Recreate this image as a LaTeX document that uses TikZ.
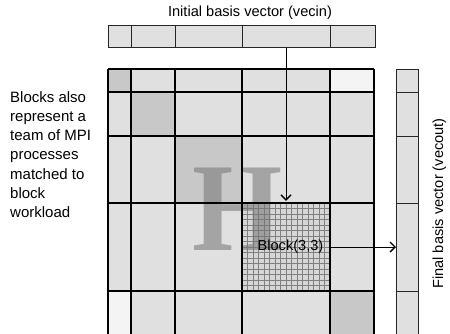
\documentclass[tikz,border=0pt]{standalone}
\usepackage{fontspec}
\setmainfont{Liberation Sans}
\newfontfamily\bigserif{Liberation Serif}
\usetikzlibrary{arrows.meta}

\definecolor{celllight}{gray}{0.878}
\definecolor{celldiag}{gray}{0.784}
\definecolor{cellpale}{gray}{0.957}
\definecolor{blockfill}{gray}{0.84}

\tikzset{
  vcell/.style={draw=black!85, line width=1pt, fill=celllight, inner sep=0pt},
  lbl/.style={font=\fontsize{14.6}{17.7}\selectfont, inner sep=0pt},
  notelbl/.style={font=\fontsize{15}{19.3}\selectfont, inner sep=0pt},
  blkline/.style={line width=1.2pt},
}

\begin{document}
\begin{tikzpicture}[x=1pt, y=-1pt, >={Straight Barb[length=5pt, width=10pt, line width=1.4pt]}]
    \useasboundingbox (0,0) rectangle (450,333);
    \clip (0,0) rectangle (450,333);

    % matrix H, cell fills
    \fill[celllight] (108,69) rectangle (374,335);
    \fill[celldiag] (108,69) rectangle (131,92);
    \fill[celldiag] (131,92) rectangle (175,136);
    \fill[celldiag] (175,136) rectangle (242,203);
    \fill[celldiag] (330,291) rectangle (374,335);
    \fill[cellpale] (330,69) rectangle (374,92);
    \fill[cellpale] (108,291) rectangle (131,335);

    % block (3,3) and its fine grid
    \node[fill=blockfill, minimum width=88, minimum height=88, inner sep=0pt] (blk) at (286,247) {};
    \foreach \k in {1,...,15} {
        \draw[black!50, line width=0.55pt] (242+5.5*\k,203) -- (242+5.5*\k,291);
        \draw[black!50, line width=0.55pt] (242,203+5.5*\k) -- (330,203+5.5*\k);
    }

    \node[text=black!55, opacity=0.55, inner sep=0pt, xscale=0.92,
          font=\bigserif\bfseries\fontsize{126}{126}\selectfont] (bigH) at (238,209) {H};

    % block boundaries
    \foreach \c in {108,131,175,242,330,374}
        \draw[blkline] (\c,69) -- (\c,335);
    \foreach \r in {69,92,136,203,291,335}
        \draw[blkline] (108,\r) -- (374,\r);

    % input and output vectors
    \foreach \cx/\w [count=\i from 0] in {119.5/23,153/44,208.5/67,286/88,352.5/45}
        \node[vcell, minimum width=\w, minimum height=22] (vin\i) at (\cx,36) {};
    \foreach \cy/\h [count=\i from 0] in {80.5/23,114/44,169.5/67,247/88,313/44}
        \node[vcell, minimum width=22, minimum height=\h] (vout\i) at (407.5,\cy) {};

    \node[lbl] (blklbl) at (290.5,247) {Block(3,3)};

    \draw[->, line width=1pt, shorten >=2pt] (vin3.south) -- (blk.north);
    \draw[->, line width=1pt] (blklbl -| blk.east) -- (blklbl -| vout3.west);

    % labels
    \node[lbl, anchor=base] (vinlbl) at (250,16.5) {Initial basis vector (vecin)};
    \node[lbl, anchor=base, rotate=90] (voutlbl) at (443,203.5) {Final basis vector (vecout)};
    \node[notelbl, anchor=north west, align=left] (note) at (10,91)
        {Blocks also\\represent a\\team of MPI\\processes\\matched to\\block\\workload};

\end{tikzpicture}
\end{document}
